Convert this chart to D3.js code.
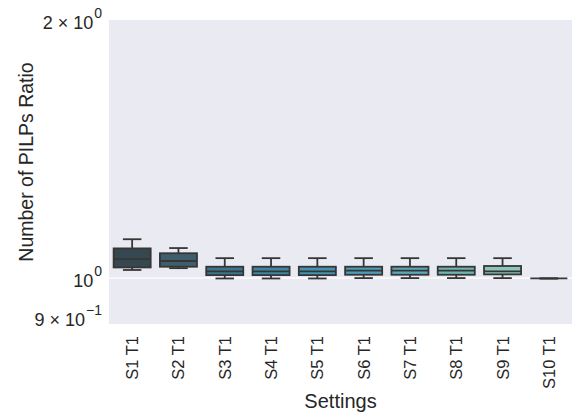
<!DOCTYPE html>
<html>
<head>
<meta charset="utf-8">
<script src="https://cdn.jsdelivr.net/npm/d3@7"></script>
<style>
  body { margin: 0; background: #fff; }
  text { font-family: "Liberation Sans", Arial, sans-serif; fill: #262626; }
</style>
</head>
<body>
<script>
// * DATA
const settings = ["S1 T1", "S2 T1", "S3 T1", "S4 T1", "S5 T1", "S6 T1", "S7 T1", "S8 T1", "S9 T1", "S10 T1"];
const whiskerLow  = [1.022, 1.027, 0.999, 0.999, 0.999, 1.000, 1.000, 1.000, 1.000, 0.999];
const q1          = [1.029, 1.031, 1.008, 1.008, 1.008, 1.009, 1.009, 1.009, 1.010, 0.999];
const medians     = [1.052, 1.047, 1.018, 1.018, 1.018, 1.020, 1.020, 1.020, 1.018, 0.999];
const q3          = [1.083, 1.069, 1.031, 1.031, 1.031, 1.031, 1.031, 1.031, 1.033, 0.999];
const whiskerHigh = [1.110, 1.084, 1.055, 1.055, 1.055, 1.055, 1.055, 1.055, 1.055, 0.999];
const boxColors = ["#35474f", "#3e5e6c", "#3c7590", "#3f86a4", "#4493b3", "#4c9db9", "#5aa8b8", "#6fb5b5", "#8bc6b8", "#a3d3c0"];
const yTicks = [0.9, 1, 2];
const yTickLabels = [["9 \u00d7 10", "\u22121"], ["10", "0"], ["2 \u00d7 10", "0"]];

// * SETUP
const width = 573, height = 420;
const margin = { top: 20, right: 1, bottom: 96, left: 109 };

const svg = d3.select("body").append("svg")
	.attr("width", width)
	.attr("height", height)
	.attr("viewBox", [0, 0, width, height]);

const x = d3.scaleBand()
	.domain(settings)
	.range([margin.left, width - margin.right]);

const y = d3.scaleLog()
	.domain([0.884, 2])
	.range([height - margin.bottom, margin.top]);

// background
svg.append("rect")
	.attr("x", margin.left)
	.attr("y", margin.top)
	.attr("width", width - margin.left - margin.right)
	.attr("height", height - margin.top - margin.bottom)
	.attr("fill", "#eaeaf2");

// gridline at major tick only
svg.append("line")
	.attr("x1", margin.left)
	.attr("x2", width - margin.right)
	.attr("y1", y(1))
	.attr("y2", y(1))
	.attr("stroke", "#fff")
	.attr("stroke-width", 1.2);

// * BOXES
const rows = settings.map((s, i) => ({
	s, lo: whiskerLow[i], q1: q1[i], med: medians[i], q3: q3[i], hi: whiskerHigh[i], color: boxColors[i]
}));

const boxW = x.bandwidth() * 0.8;
const capW = boxW * 0.5;
const lineColor = "#363636";
const lw = 1.8;

const g = svg.append("g")
	.selectAll("g")
	.data(rows)
	.join("g")
	.attr("transform", (d) => `translate(${x(d.s) + x.bandwidth() / 2},0)`);

// whiskers
g.append("line")
	.attr("y1", (d) => y(d.hi)).attr("y2", (d) => y(d.q3))
	.attr("stroke", lineColor).attr("stroke-width", lw);
g.append("line")
	.attr("y1", (d) => y(d.lo)).attr("y2", (d) => y(d.q1))
	.attr("stroke", lineColor).attr("stroke-width", lw);
g.append("line")
	.attr("x1", -capW / 2).attr("x2", capW / 2)
	.attr("y1", (d) => y(d.hi)).attr("y2", (d) => y(d.hi))
	.attr("stroke", lineColor).attr("stroke-width", lw);
g.append("line")
	.attr("x1", -capW / 2).attr("x2", capW / 2)
	.attr("y1", (d) => y(d.lo)).attr("y2", (d) => y(d.lo))
	.attr("stroke", lineColor).attr("stroke-width", lw);

// box
g.append("rect")
	.attr("x", -boxW / 2)
	.attr("width", boxW)
	.attr("y", (d) => y(d.q3))
	.attr("height", (d) => Math.max(0, y(d.q1) - y(d.q3)))
	.attr("fill", (d) => d.color)
	.attr("stroke", lineColor)
	.attr("stroke-width", lw);

// median
g.append("line")
	.attr("x1", -boxW / 2).attr("x2", boxW / 2)
	.attr("y1", (d) => y(d.med)).attr("y2", (d) => y(d.med))
	.attr("stroke", lineColor).attr("stroke-width", lw);

// * AXES
// x tick labels rotated
svg.append("g")
	.selectAll("text")
	.data(settings)
	.join("text")
	.attr("transform", (d) => `translate(${x(d) + x.bandwidth() / 2 + 6},${height - margin.bottom + 12}) rotate(-90)`)
	.attr("text-anchor", "end")
	.attr("font-size", 16.5)
	.text((d) => d);

// y tick labels with superscripts
const yl = svg.append("g")
	.selectAll("text")
	.data(yTicks)
	.join("text")
	.attr("x", margin.left - 7)
	.attr("y", (d) => y(d) + 8.5)
	.attr("text-anchor", "end")
	.attr("font-size", 18);
yl.append("tspan").text((d, i) => yTickLabels[i][0]);
yl.append("tspan")
	.attr("dy", -11)
	.attr("dx", 1)
	.attr("font-size", 14)
	.text((d, i) => yTickLabels[i][1]);

// axis titles
svg.append("text")
	.attr("x", (margin.left + width - margin.right) / 2)
	.attr("y", 408)
	.attr("text-anchor", "middle")
	.attr("font-size", 20)
	.text("Settings");

svg.append("text")
	.attr("transform", `translate(33,162) rotate(-90)`)
	.attr("text-anchor", "middle")
	.attr("font-size", 19.5)
	.text("Number of PILPs Ratio");
</script>
</body>
</html>
